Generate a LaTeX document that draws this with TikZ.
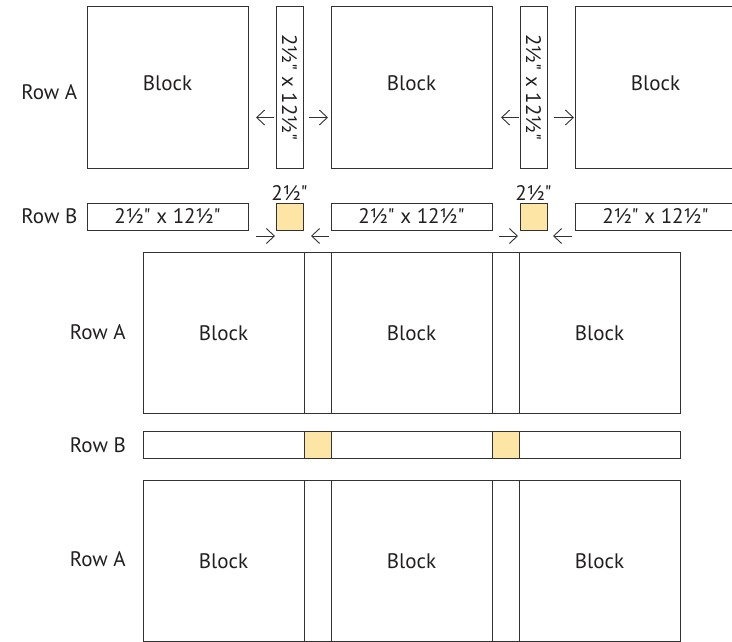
\documentclass[tikz,border=0pt]{standalone}
\usepackage{fontspec}
\setmainfont{PT Sans}[Ligatures=TeXOff]
\usetikzlibrary{arrows.meta}

\definecolor{edge}{RGB}{50,50,50}
\definecolor{ink}{RGB}{35,31,32}
\definecolor{cream}{RGB}{253,229,166}

\begin{document}
\begin{tikzpicture}[x=1pt, y=-1pt,
	piece/.style={draw=edge, line width=1pt, inner sep=0pt, text=ink, font=\fontsize{21}{25}\selectfont},
	block/.style={piece, minimum width=161pt, minimum height=161pt},
	strip/.style={piece, minimum width=161pt, minimum height=27pt},
	stone/.style={piece, fill=cream, minimum width=27pt, minimum height=27pt},
	row/.style={anchor=east, inner sep=0pt, text=ink, font=\fontsize{21}{25}\selectfont},
	arr/.style={draw=edge, line width=0.9pt, -{Straight Barb[length=8pt, width=15pt]}}]
					\path[use as bounding box, fill=white] (0,0) rectangle (732,642);
					
					\node[block, text depth=8pt] (A1) at (167.5,87.5) {Block};
					\node[strip, rotate=-90] (S1) at (289.5,87.5) {2½" x 12½"};
					\node[block, text depth=8pt] (A2) at (411.5,87.5) {Block};
					\node[strip, rotate=-90] (S2) at (533.5,87.5) {2½" x 12½"};
					\node[block, text depth=8pt] (A3) at (655.5,87.5) {Block};
					
					\node[strip] (B1) at (167.5,216.5) {2½" x 12½"};
					\node[stone] (C1) at (289.5,216.5) {};
					\node[strip] (B2) at (411.5,216.5) {2½" x 12½"};
					\node[stone] (C2) at (533.5,216.5) {};
					\node[strip] (B3) at (655.5,216.5) {2½" x 12½"};
					\node[row, anchor=south, above=1.5pt] (C1t) at (C1.north) {2½"};
					\node[row, anchor=south, above=1.5pt] (C2t) at (C2.north) {2½"};
					
					\node[row] (RA1) at (77.5,92) {Row A};
					\node[row] (RB1) at (77.5,216.6) {Row B};
					
					\coordinate (a1) at (274,117.5);
					\coordinate (a2) at (256,117.5);
					\coordinate (a3) at (309,117.5);
					\coordinate (a4) at (328,117.5);
					\coordinate (a5) at (519,117.5);
					\coordinate (a6) at (501,117.5);
					\coordinate (a7) at (554,117.5);
					\coordinate (a8) at (574,117.5);
					\draw[arr] (a1) -- (a2);
					\draw[arr] (a3) -- (a4);
					\draw[arr] (a5) -- (a6);
					\draw[arr] (a7) -- (a8);
					
					\coordinate (b1) at (256,236);
					\coordinate (b2) at (275,236);
					\coordinate (b3) at (329,236);
					\coordinate (b4) at (311,236);
					\coordinate (b5) at (499,236);
					\coordinate (b6) at (518,236);
					\coordinate (b7) at (572,236);
					\coordinate (b8) at (553,236);
					\draw[arr] (b1) -- (b2);
					\draw[arr] (b3) -- (b4);
					\draw[arr] (b5) -- (b6);
					\draw[arr] (b7) -- (b8);
					
					\node[block] (D1) at (223.5,333) {Block};
					\node[strip, rotate=-90] (E1) at (317.5,333) {};
					\node[block] (D2) at (411.5,333) {Block};
					\node[strip, rotate=-90] (E2) at (505.5,333) {};
					\node[block] (D3) at (599.5,333) {Block};
					
					\node[strip] (F1) at (223.5,445) {};
					\node[stone] (G1) at (317.5,445) {};
					\node[strip] (F2) at (411.5,445) {};
					\node[stone] (G2) at (505.5,445) {};
					\node[strip] (F3) at (599.5,445) {};
					
					\node[block] (H1) at (223.5,561) {Block};
					\node[strip, rotate=-90] (K1) at (317.5,561) {};
					\node[block] (H2) at (411.5,561) {Block};
					\node[strip, rotate=-90] (K2) at (505.5,561) {};
					\node[block] (H3) at (599.5,561) {Block};
					
					\node[row] (RA2) at (126,332) {Row A};
					\node[row] (RB2) at (126,445.6) {Row B};
					\node[row] (RA3) at (126,559) {Row A};
				\end{tikzpicture}
\end{document}
